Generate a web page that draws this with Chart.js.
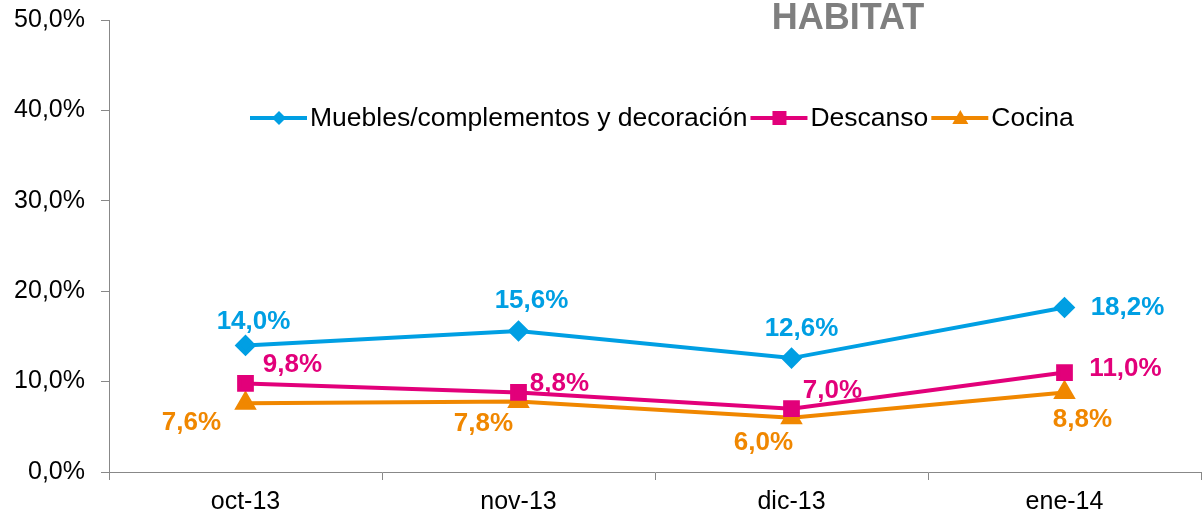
<!DOCTYPE html>
<html lang="es">
<head>
  <meta charset="UTF-8">
  <title>HABITAT</title>
  <script src="https://cdn.jsdelivr.net/npm/chart.js"></script>
  <style>
    html, body { margin: 0; padding: 0; background: #fff; overflow: hidden; }
    canvas { display: block; }
  </style>
</head>
<body>
  <canvas id="grafico" width="1202" height="516"></canvas>
<script>
  // datos
  const meses = ['oct-13', 'nov-13', 'dic-13', 'ene-14'];
  const muebles = [14.0, 15.6, 12.6, 18.2];
  const descanso = [9.8, 8.8, 7.0, 11.0];
  const cocina = [7.6, 7.8, 6.0, 8.8];
  const yTicks = [0, 10, 20, 30, 40, 50];

  const azul = '#009FE3';
  const rosa = '#E2007A';
  const naranja = '#F08700';

  // desplazamiento de las etiquetas respecto al punto (px)
  const offsets = [
    [[8, -24], [13, -30], [10, -29], [63, 0]],
    [[47, -19], [41, -9], [41, -18], [61, -4]],
    [[-54, 20], [-35, 22], [-28, 25], [18, 27]]
  ];

  const fmt = v => v.toFixed(1).replace('.', ',') + '%';

  const etiquetas = {
    id: 'etiquetas',
    afterDatasetsDraw(chart) {
      const ctx = chart.ctx;
      ctx.save();
      ctx.font = 'bold 26px "Liberation Sans", Arial, sans-serif';
      ctx.textAlign = 'center';
      ctx.textBaseline = 'middle';
      chart.data.datasets.forEach((ds, i) => {
        const meta = chart.getDatasetMeta(i);
        meta.data.forEach((pt, j) => {
          ctx.fillStyle = ds.borderColor;
          ctx.fillText(fmt(ds.data[j]), pt.x + offsets[i][j][0], pt.y + offsets[i][j][1]);
        });
      });

      // titulo
      ctx.fillStyle = '#7F7F7F';
      ctx.font = 'bold 36px "Liberation Sans", Arial, sans-serif';
      ctx.fillText('HABITAT', 848, 19);

      // leyenda
      ctx.font = '26.5px "Liberation Sans", Arial, sans-serif';
      ctx.textAlign = 'left';
      let x = 250;
      const y = 118;
      chart.data.datasets.forEach((ds) => {
        ctx.strokeStyle = ds.borderColor;
        ctx.fillStyle = ds.borderColor;
        ctx.lineWidth = 4;
        ctx.beginPath();
        ctx.moveTo(x, y);
        ctx.lineTo(x + 57, y);
        ctx.stroke();
        const mx = x + 29;
        ctx.beginPath();
        if (ds.pointStyle === 'rectRot') {
          ctx.moveTo(mx, y - 7); ctx.lineTo(mx + 7, y); ctx.lineTo(mx, y + 7); ctx.lineTo(mx - 7, y);
        } else if (ds.pointStyle === 'rect') {
          ctx.rect(mx - 7, y - 7, 14, 14);
        } else {
          ctx.moveTo(mx, y - 8); ctx.lineTo(mx + 8, y + 6); ctx.lineTo(mx - 8, y + 6);
        }
        ctx.closePath();
        ctx.fill();
        ctx.fillStyle = '#000';
        ctx.textBaseline = 'middle';
        ctx.fillText(ds.label, x + 60, y + 1);
        x += 60 + ctx.measureText(ds.label).width + 3;
      });
      ctx.restore();
    }
  };

  const ctx = document.getElementById('grafico').getContext('2d');
  const grafico = new Chart(ctx, {
    type: 'line',
    data: {
      labels: meses,
      datasets: [
        {
          label: 'Muebles/complementos y decoración',
          data: muebles,
          borderColor: azul,
          backgroundColor: azul,
          borderWidth: 4,
          pointStyle: 'rectRot',
          pointRadius: 8,
          tension: 0
        },
        {
          label: 'Descanso',
          data: descanso,
          borderColor: rosa,
          backgroundColor: rosa,
          borderWidth: 4,
          pointStyle: 'rect',
          pointRadius: 9,
          tension: 0
        },
        {
          label: 'Cocina',
          data: cocina,
          borderColor: naranja,
          backgroundColor: naranja,
          borderWidth: 4,
          pointStyle: 'triangle',
          pointRadius: 9,
          tension: 0
        }
      ]
    },
    options: {
      responsive: false,
      animation: false,
      layout: { autoPadding: false, padding: { top: 20, right: 1, bottom: 0, left: 0 } },
      plugins: {
        legend: { display: false },
        title: { display: false },
        tooltip: { enabled: false }
      },
      scales: {
        x: {
          offset: true,
          grid: { offset: true, drawOnChartArea: false, tickLength: 8, color: '#888' },
          border: { color: '#888', width: 1 },
          ticks: {
            color: '#000',
            padding: 7,
            maxRotation: 0,
            font: { family: '"Liberation Sans", Arial, sans-serif', size: 25 }
          },
          afterFit: s => { s.height = 44; s.paddingLeft = 0; s.paddingRight = 0; }
        },
        y: {
          min: 0,
          max: 50,
          afterBuildTicks: s => { s.ticks = yTicks.map(v => ({ value: v })); },
          grid: { drawOnChartArea: false, tickLength: 8, color: '#888' },
          border: { color: '#888', width: 1 },
          ticks: {
            color: '#000',
            padding: 16,
            callback: v => fmt(v),
            font: { family: '"Liberation Sans", Arial, sans-serif', size: 25 }
          },
          afterFit: s => { s.width = 109; s.paddingTop = 0; s.paddingBottom = 0; }
        }
      }
    },
    plugins: [etiquetas]
  });
</script>
</body>
</html>
